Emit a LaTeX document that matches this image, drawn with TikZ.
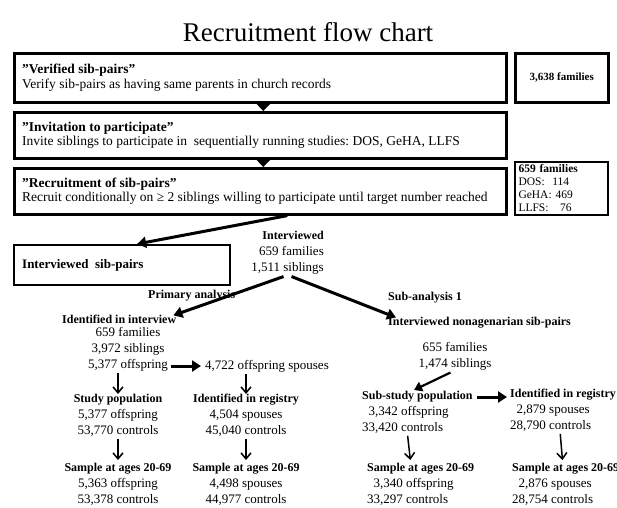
\documentclass[tikz,border=0pt]{standalone}
\usepackage{fontspec}
\setmainfont{Liberation Serif}
\usetikzlibrary{arrows.meta}
\begin{document}
\begin{tikzpicture}[x=1pt,y=-1pt,
  bigbox/.style={draw, line width=2.6pt, inner sep=0pt, anchor=north west},
  boxtxt/.style={inner xsep=9pt, inner ysep=0pt, anchor=west, align=left, font=\fontsize{13.5}{14.5}\selectfont},
  txt/.style={inner sep=0pt, font=\fontsize{13}{16}\selectfont},
  hd/.style={inner sep=0pt, font=\bfseries\fontsize{12}{16}\selectfont},
  blockarrow/.style={line width=4.5pt, -{Triangle[length=7pt,width=13pt]}},
  fatarrow/.style={line width=3pt, -{Triangle[length=9pt,width=11pt]}},
  thinarrow/.style={line width=1.5pt, -{Straight Barb[length=6pt,width=10pt]}}]
\useasboundingbox (0,0) rectangle (617,507);
\node[inner sep=0pt, anchor=base, font=\fontsize{27}{30}\selectfont] (title) at (308,41) {Recruitment flow chart};
% boxes
\node[bigbox, minimum width=492pt, minimum height=49pt] (box1) at (13,52) {};
\node[boxtxt] (t1) at (box1.west) {\textbf{”Verified sib-pairs”}\\Verify sib-pairs\ as having same parents in church\ records};
\node[bigbox, minimum width=93pt, minimum height=49pt, font=\bfseries\fontsize{11}{13}\selectfont] (fam1) at (514,52) {3,638 families};
\node[bigbox, minimum width=492pt, minimum height=46pt] (box2) at (13,111) {};
\node[boxtxt] (t2) at (box2.west) {\textbf{”Invitation to participate”}\\Invite siblings to participate in\ \ sequentially running studies:\ DOS, GeHA, LLFS};
\node[bigbox, minimum width=492pt, minimum height=46pt] (box3) at (13,167) {};
\node[boxtxt] (t3) at (box3.west) {\textbf{”Recruitment of sib-pairs”}\\Recruit conditionally on ≥ 2 siblings\ willing to participate\ until target number reached};
\node[bigbox, minimum width=93pt, minimum height=53pt, line width=2pt, align=left, inner xsep=3pt, inner ysep=1pt, text width=86pt, font=\fontsize{11.5}{13}\selectfont] (fam3) at (514,161) {\textbf{659 families}\\DOS:\ \ 114\\GeHA: 469\\LLFS:\ \ \ 76};
\node[bigbox, minimum width=216pt, minimum height=40pt, line width=2.2pt] (box4) at (13,244) {};
\node[boxtxt, font=\bfseries\fontsize{13}{14}\selectfont] (t4) at (box4.west) {Interviewed\ \ sib-pairs};
% arrows between boxes
\draw[blockarrow] ([xshift=3pt]box1.south) -- ([xshift=3pt]box2.north);
\draw[blockarrow] ([xshift=3pt]box2.south) -- ([xshift=3pt]box3.north);
\draw[fatarrow] ([xshift=27pt]box3.south) -- ([xshift=15pt]box4.north);
% interviewed
\node[txt, align=right, anchor=north east] (intv) at (324,231) {\textbf{\fontsize{12}{16}\selectfont Interviewed}\\659 families\\1,511 siblings};
\node[hd, anchor=base west] (prim) at (148,298) {Primary analysis};
\node[hd, anchor=base west] (sub1) at (388,300) {Sub-analysis 1};
% left branch
\node[hd, anchor=base west] (idint) at (62,323) {Identified in interview};
\node[txt, align=center, anchor=north] (idnum) at (128,327) {659 families\\3,972 siblings\\5,377 offspring};
\node[txt, anchor=west] (spou) at (205,366) {4,722 offspring spouses};
\node[txt, align=center, anchor=north] (stud) at (118,394) {\textbf{\fontsize{12}{16}\selectfont Study population}\\5,377 offspring\\53,770 controls};
\node[txt, align=center, anchor=north] (reg1) at (246,394) {\textbf{\fontsize{12}{16}\selectfont Identified in registry}\\4,504 spouses\\45,040 controls};
\node[txt, align=center, anchor=north] (samp1) at (118,463) {\textbf{\fontsize{12}{16}\selectfont Sample at ages 20-69}\\5,363 offspring\\53,378 controls};
\node[txt, align=center, anchor=north] (samp2) at (246,463) {\textbf{\fontsize{12}{16}\selectfont Sample at ages 20-69}\\4,498 spouses\\44,977 controls};
% right branch
\node[hd, anchor=base west] (nona) at (388,325) {Interviewed nonagenarian sib-pairs};
\node[txt, align=center, anchor=north] (nonum) at (455,342) {655 families\\1,474 siblings};
\node[txt, align=left, anchor=north west] (subst) at (362,391) {\textbf{\fontsize{12}{16}\selectfont Sub-study population}\\\ \ 3,342 offspring\\33,420 controls};
\node[txt, align=left, anchor=north west] (reg2) at (510,389) {\textbf{\fontsize{12}{16}\selectfont Identified in registry}\\\ \ 2,879 spouses\\28,790 controls};
\node[txt, align=left, anchor=north west] (samp3) at (367,463) {\textbf{\fontsize{12}{16}\selectfont Sample at ages 20-69}\\\ \ 3,340 offspring\\33,297 controls};
\node[txt, align=left, anchor=north west] (samp4) at (512,463) {\textbf{\fontsize{12}{16}\selectfont Sample at ages 20-69}\\\ \ 2,876 spouses\\28,754 controls};
% arrows lower part
\draw[fatarrow] ([xshift=-4pt,yshift=-2pt]intv.south) -- ([xshift=-3pt,yshift=-1pt]idint.north east);
\draw[fatarrow] ([xshift=4pt,yshift=-2pt]intv.south) -- ([xshift=8pt,yshift=-1pt]nona.north west);
\draw[fatarrow, shorten <=3pt] (spou.west -| idnum.east) -- ([xshift=-4pt]spou.west);
\draw[thinarrow, shorten <=2pt] (stud.north |- idnum.south) -- (stud.north);
\draw[thinarrow, shorten <=2pt] (reg1.north |- spou.south) -- (reg1.north);
\draw[thinarrow, shorten <=2pt, shorten >=3pt] (stud.south) -- (samp1.north);
\draw[thinarrow, shorten <=2pt, shorten >=3pt] (reg1.south) -- (samp2.north);
\draw[line width=2.2pt, -{Triangle[length=8pt,width=10pt]}, shorten <=5pt] (nonum.south) -- ([xshift=52pt,yshift=1pt]subst.north west);
\draw[fatarrow, shorten <=4pt, shorten >=3pt] ([yshift=-6pt]subst.north east) -- ([yshift=-6pt]subst.north east -| reg2.west);
\draw[thinarrow, shorten <=2pt, shorten >=3pt] ([xshift=-10pt]subst.south) -- ([xshift=-10pt]samp3.north);
\draw[thinarrow, shorten <=2pt, shorten >=3pt] ([xshift=-3pt]reg2.south) -- ([xshift=-3pt]samp4.north);
\end{tikzpicture}
\end{document}
